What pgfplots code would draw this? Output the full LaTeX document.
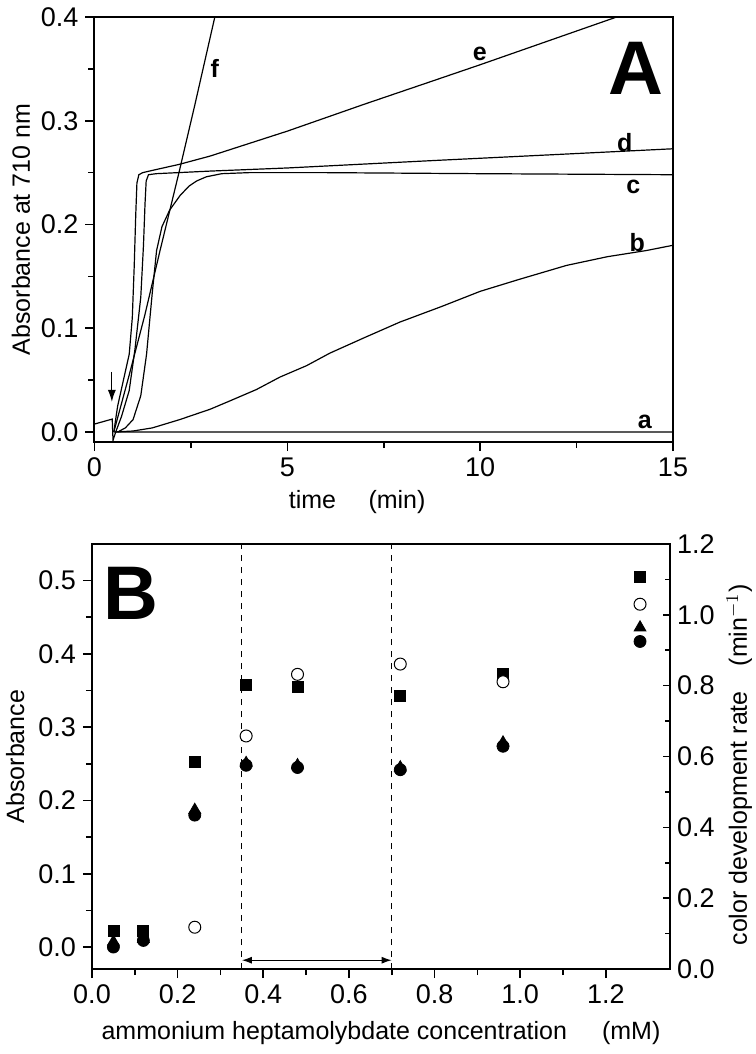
\documentclass[border=0pt]{standalone}
\usepackage{fontspec}
\setmainfont{Liberation Sans}
\usepackage{pgfplots}
\pgfplotsset{compat=1.18}
\usetikzlibrary{arrows.meta}

\pgfplotsset{
  panel/.style={
    scale only axis,
    axis line style={line width=1pt},
    every tick/.style={line width=0.8pt, black},
    major tick length=4.5pt, minor tick length=3pt,
    tick align=outside,
    xtick pos=bottom, ytick pos=left,
    minor tick num=1,
    tick label style={font=\fontsize{13.5}{15}\selectfont},
    label style={font=\fontsize{12.5}{15}\selectfont},
    /pgf/number format/assume math mode=true,
  },
  curve/.style={black, line width=0.6pt, no markers},
}

\begin{document}
\begin{tikzpicture}
\path[use as bounding box] (0,0) rectangle (377.5pt,-527pt);

% ---------- panel A: kinetics ----------
\begin{axis}[panel,
  at={(47.25pt,-221pt)},
  width=289.25pt, height=212.5pt,
  xmin=0, xmax=15, ymin=-0.0096, ymax=0.4,
  xtick={0,5,10,15},
  ytick={0,0.1,0.2,0.3,0.4},
  yticklabel style={/pgf/number format/.cd, fixed, fixed zerofill, precision=1},
  xlabel={time\hspace{1.3em}(min)},
  x label style={at={(axis description cs:0.454,0)}, anchor=center, yshift=-30pt},
  ylabel={Absorbance at 710 nm},
  y label style={at={(axis description cs:-0.127,0.5)}, anchor=center},
]
% a
\addplot[curve] coordinates {(0,0.0077) (0.46,0.0125) (0.48,-0.008) (0.55,0.0) (15,0.0)};
% b
\addplot[curve] coordinates {(0.5,0.000) (1.0,0.001) (1.5,0.004) (2.21,0.012) (3.0,0.022)
  (3.51,0.030) (4.2,0.041) (4.81,0.053) (5.5,0.064) (6.1,0.076) (7.0,0.091) (7.92,0.106)
  (9.0,0.121) (10,0.1356) (11,0.147) (12.24,0.1606) (13.3,0.169) (14.32,0.175) (15,0.180)};
% c
\addplot[curve] coordinates {(0.60,0.000) (0.8,0.004) (1.0,0.012) (1.2,0.035) (1.35,0.075)
  (1.5,0.135) (1.61,0.175) (1.75,0.198) (1.95,0.214) (2.22,0.228) (2.45,0.237) (2.65,0.242)
  (2.9,0.246) (3.3,0.249) (4,0.250) (6,0.250) (10,0.249) (15,0.248)};
% d
\addplot[curve] coordinates {(0.55,0.000) (0.7,0.015) (0.9,0.040) (1.05,0.080) (1.20,0.130)
  (1.27,0.180) (1.31,0.220) (1.34,0.242) (1.40,0.248) (1.6,0.249) (3,0.2515) (5,0.2545)
  (8.7,0.2615) (12,0.2675) (15,0.273)};
% e
\addplot[curve] coordinates {(0.50,0.000) (0.60,0.025) (0.75,0.050) (0.90,0.075) (0.98,0.110)
  (1.03,0.160) (1.07,0.210) (1.10,0.240) (1.15,0.248) (1.25,0.250) (1.6,0.253) (2.2,0.258)
  (3,0.266) (4,0.278) (5,0.290) (6,0.303) (7,0.316) (8.7,0.3375) (10,0.354) (11,0.367)
  (12,0.380) (13,0.393) (13.54,0.400)};
% f
\addplot[curve] coordinates {(0.50,0.000) (0.9,0.055) (1.3,0.112) (1.7,0.175) (2.19,0.250)
  (2.6,0.315) (3.12,0.400)};

\draw[line width=0.6pt, -{Latex[length=6pt,width=4pt]}] (axis cs:0.45,0.058) -- (axis cs:0.45,0.029);
\begin{scope}[every node/.style={font=\bfseries\fontsize{12.5}{14}\selectfont}]
\node at (axis cs:14.27,0.0099) {a};
\node at (axis cs:14.07,0.183) {b};
\node at (axis cs:13.97,0.236) {c};
\node at (axis cs:13.75,0.279) {d};
\node at (axis cs:9.99,0.364) {e};
\node at (axis cs:3.12,0.350) {f};
\end{scope}
\node[font=\bfseries\fontsize{38}{40}\selectfont] at (axis cs:14.05,0.3505) {A};
\end{axis}

% ---------- panel B: concentration dependence ----------
\begin{axis}[panel,
  at={(46pt,-484.5pt)},
  width=289pt, height=212.5pt,
  xmin=0, xmax=1.35, ymin=-0.03, ymax=0.55,
  xtick={0,0.2,...,1.2},
  ytick={0,0.1,...,0.5},
  xticklabel style={/pgf/number format/.cd, fixed, fixed zerofill, precision=1},
  yticklabel style={/pgf/number format/.cd, fixed, fixed zerofill, precision=1},
  xlabel={ammonium heptamolybdate concentration\hspace{1.4em}(mM)},
  x label style={at={(axis description cs:0.5,0)}, anchor=center, yshift=-32pt},
  ylabel={Absorbance},
  y label style={at={(axis description cs:-0.133,0.5)}, anchor=center},
]
\draw[dashed, line width=0.5pt] (axis cs:0.35,-0.03) -- (axis cs:0.35,0.55);
\draw[dashed, line width=0.5pt] (axis cs:0.70,-0.03) -- (axis cs:0.70,0.55);
\draw[line width=0.6pt, {Latex[length=5pt,width=3.5pt]}-{Latex[length=5pt,width=3.5pt]}]
  (axis cs:0.35,-0.018) -- (axis cs:0.70,-0.018);
% filled triangles
\addplot[only marks, mark=triangle*, mark size=3.4pt, black] coordinates {
  (0.05,0.007) (0.12,0.011) (0.24,0.187) (0.36,0.251) (0.48,0.248) (0.72,0.245) (0.96,0.279) (1.28,0.436)};
% filled circles
\addplot[only marks, mark=*, mark size=3pt, black] coordinates {
  (0.05,0.000) (0.12,0.009) (0.24,0.180) (0.36,0.248) (0.48,0.245) (0.72,0.242) (0.96,0.274) (1.28,0.417)};
\node[font=\bfseries\fontsize{38}{40}\selectfont] at (axis cs:0.092,0.483) {B};
\end{axis}

\begin{axis}[scale only axis,
  at={(46pt,-484.5pt)},
  width=289pt, height=212.5pt,
  xmin=0, xmax=1.35, ymin=0, ymax=1.2,
  axis x line=none, axis y line*=right,
  axis line style={line width=1pt},
  every tick/.style={line width=0.8pt, black},
  major tick length=3.5pt, minor tick length=2.5pt,
  tick align=inside, ytick pos=right,
  ytick={0,0.2,...,1.2}, minor tick num=1,
  tick label style={font=\fontsize{13.5}{15}\selectfont},
  label style={font=\fontsize{12.5}{15}\selectfont},
  /pgf/number format/assume math mode=true,
  yticklabel style={/pgf/number format/.cd, fixed, fixed zerofill, precision=1},
  ylabel={color development rate\hspace{1.0em}(min$^{-1}$)},
  y label style={at={(axis description cs:1.12,0.48)}, anchor=center, rotate=0},
]
% filled squares
\addplot[only marks, mark=square*, mark size=2.75pt, black] coordinates {
  (0.05,0.108) (0.12,0.108) (0.24,0.585) (0.36,0.801) (0.48,0.797) (0.72,0.772) (0.96,0.832) (1.28,1.107)};
% open circles
\addplot[only marks, mark=*, mark size=3pt, draw=black, fill=white, line width=0.5pt] coordinates {
  (0.24,0.118) (0.36,0.658) (0.48,0.832) (0.72,0.861) (0.96,0.811) (1.28,1.030)};
\end{axis}
\end{tikzpicture}
\end{document}
